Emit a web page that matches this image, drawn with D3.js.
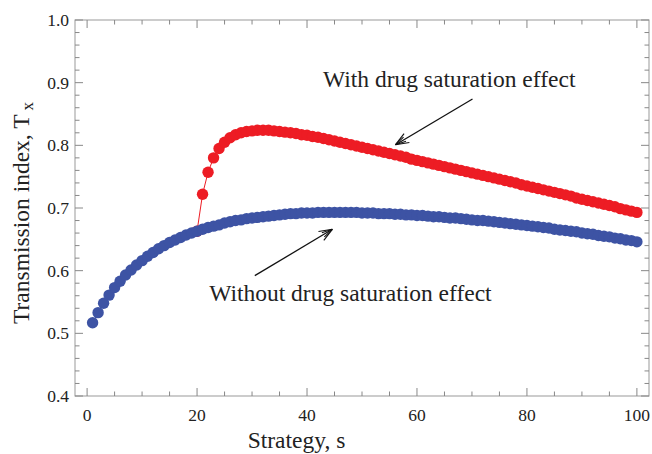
<!DOCTYPE html>
<html lang="en">
<head>
    <meta charset="UTF-8">
    <title>Transmission index</title>
    <script src="https://cdn.jsdelivr.net/npm/d3@7"></script>
    <style>
        body{ margin:0; background:#fff; }
        .tick-label, .axis-title, .note{
            font-family: "Liberation Serif", "Times New Roman", serif;
            fill:#222;
        }
        .tick-label{ font-size:17.5px; }
        .axis-title{ font-size:23.5px; }
        .note{ font-size:23.5px; }
    </style>
</head>
<body>
<svg width="652" height="454"></svg>
<script>
    // strategy s = 1..100
    const strategies = d3.range(1, 101);

    // without drug saturation effect, s = 1..100
    const withoutSat = [
        0.517, 0.533, 0.548, 0.561, 0.573, 0.583, 0.593, 0.601, 0.609, 0.616,
        0.623, 0.629, 0.635, 0.640, 0.645, 0.649, 0.653, 0.657, 0.660, 0.663,
        0.666, 0.669, 0.671, 0.673, 0.676, 0.678, 0.680, 0.681, 0.683, 0.684,
        0.685, 0.686, 0.687, 0.688, 0.689, 0.690, 0.691, 0.691, 0.692, 0.692,
        0.692, 0.693, 0.693, 0.693, 0.693, 0.693, 0.693, 0.693, 0.693, 0.692,
        0.692, 0.692, 0.691, 0.691, 0.691, 0.690, 0.690, 0.689, 0.689, 0.688,
        0.688, 0.687, 0.686, 0.686, 0.685, 0.684, 0.684, 0.683, 0.682, 0.681,
        0.680, 0.680, 0.679, 0.678, 0.677, 0.676, 0.675, 0.674, 0.673, 0.672,
        0.671, 0.670, 0.669, 0.668, 0.666, 0.665, 0.664, 0.663, 0.662, 0.660,
        0.659, 0.658, 0.656, 0.655, 0.654, 0.652, 0.651, 0.649, 0.648, 0.646
    ];

    // with drug saturation effect, s = 20..100 (below 20 it equals the other curve)
    const satStart = 20;
    const withSat = [
        0.663,
        0.722, 0.757, 0.780, 0.795, 0.805, 0.812, 0.817, 0.820, 0.822, 0.823,
        0.824, 0.824, 0.824, 0.823, 0.822, 0.821, 0.820, 0.819, 0.817, 0.816,
        0.814, 0.813, 0.811, 0.809, 0.807, 0.805, 0.803, 0.801, 0.799, 0.797,
        0.795, 0.793, 0.791, 0.789, 0.787, 0.785, 0.783, 0.781, 0.778, 0.776,
        0.774, 0.772, 0.770, 0.768, 0.766, 0.764, 0.762, 0.760, 0.758, 0.756,
        0.754, 0.752, 0.750, 0.748, 0.746, 0.744, 0.742, 0.740, 0.737, 0.735,
        0.733, 0.731, 0.729, 0.727, 0.725, 0.723, 0.721, 0.719, 0.716, 0.714,
        0.712, 0.710, 0.708, 0.706, 0.704, 0.702, 0.699, 0.697, 0.695, 0.693
    ];

    const xTicks = [0, 20, 40, 60, 80, 100];
    const yTicks = [0.4, 0.5, 0.6, 0.7, 0.8, 0.9, 1.0];

    // annotations: label position and arrow tail/head, in data units
    const notes = [
        {label: "With drug saturation effect", tx: 42.9, ty: 0.893, from: [70.1, 0.874], to: [56.1, 0.801]},
        {label: "Without drug saturation effect", tx: 22.2, ty: 0.551, from: [30.5, 0.592], to: [44.6, 0.666]}
    ];

    const svg = d3.select("svg");
    const padL = 75, padR = 649, padT = 20, padB = 396;

    const x = d3.scaleLinear().domain([-2.2, 102.2]).range([padL, padR]);
    const y = d3.scaleLinear().domain([0.4, 1.0]).range([padB, padT]);

    // frame
    svg.append("rect")
        .attr("x", padL).attr("y", padT)
        .attr("width", padR - padL).attr("height", padB - padT)
        .attr("fill", "none").attr("stroke", "#999").attr("stroke-width", 1);

    // ticks, pointing inside on all four sides
    const xMinor = d3.range(0, 101, 5);
    const yMinor = d3.range(0, 31).map(i => 0.4 + i * 0.02);
    const tickG = svg.append("g").attr("stroke", "#888").attr("stroke-width", 1);
    xMinor.forEach(v => {
        const len = v % 20 === 0 ? 8 : 4.5;
        tickG.append("line").attr("x1", x(v)).attr("x2", x(v)).attr("y1", padB).attr("y2", padB - len);
        tickG.append("line").attr("x1", x(v)).attr("x2", x(v)).attr("y1", padT).attr("y2", padT + len);
    });
    yMinor.forEach((v, i) => {
        const len = i % 5 === 0 ? 8 : 4.5;
        tickG.append("line").attr("y1", y(v)).attr("y2", y(v)).attr("x1", padL).attr("x2", padL + len);
        tickG.append("line").attr("y1", y(v)).attr("y2", y(v)).attr("x1", padR).attr("x2", padR - len);
    });

    // tick labels
    svg.append("g").selectAll("text").data(xTicks).join("text")
        .attr("class", "tick-label")
        .attr("x", d => x(d)).attr("y", 421)
        .attr("text-anchor", "middle")
        .text(d => d);
    svg.append("g").selectAll("text").data(yTicks).join("text")
        .attr("class", "tick-label")
        .attr("x", 69).attr("y", d => y(d) + 6)
        .attr("text-anchor", "end")
        .text(d => d.toFixed(1));

    // axis titles
    svg.append("text").attr("class", "axis-title")
        .attr("x", 296.5).attr("y", 448)
        .attr("text-anchor", "middle")
        .text("Strategy, s");
    const yt = svg.append("text").attr("class", "axis-title")
        .attr("transform", "translate(29,213) rotate(-90)")
        .attr("text-anchor", "middle");
    yt.append("tspan").text("Transmission index, T");
    yt.append("tspan").attr("dy", 4).attr("dx", 4).attr("font-size", 17).text("x");

    const satPts = withSat.map((v, i) => [satStart + i, v]);
    const basePts = strategies.map((s, i) => [s, withoutSat[i]]);
    const line = d3.line().x(d => x(d[0])).y(d => y(d[1]));

    const red = "#ed1c24", blue = "#3d53a4";

    // red first, blue drawn on top of it
    svg.append("path").attr("d", line(satPts))
        .attr("fill", "none").attr("stroke", red).attr("stroke-width", 1);
    svg.append("g").selectAll("circle").data(satPts).join("circle")
        .attr("cx", d => x(d[0])).attr("cy", d => y(d[1])).attr("r", 5.7)
        .attr("fill", red);

    svg.append("path").attr("d", line(basePts))
        .attr("fill", "none").attr("stroke", blue).attr("stroke-width", 1);
    svg.append("g").selectAll("circle").data(basePts).join("circle")
        .attr("cx", d => x(d[0])).attr("cy", d => y(d[1])).attr("r", 5.7)
        .attr("fill", blue);

    // annotations with open double-barbed arrowheads
    notes.forEach(n => {
        svg.append("text").attr("class", "note")
            .attr("x", x(n.tx)).attr("y", y(n.ty))
            .text(n.label);
        const x1 = x(n.from[0]), y1 = y(n.from[1]);
        const x2 = x(n.to[0]), y2 = y(n.to[1]);
        svg.append("line").attr("x1", x1).attr("y1", y1).attr("x2", x2).attr("y2", y2)
            .attr("stroke", "#111").attr("stroke-width", 1.3);
        const ang = Math.atan2(y2 - y1, x2 - x1);
        [[14, 0.38], [14, -0.38], [11, 0.22], [11, -0.22]].forEach(([len, da]) => {
            svg.append("line")
                .attr("x1", x2).attr("y1", y2)
                .attr("x2", x2 - len * Math.cos(ang + da))
                .attr("y2", y2 - len * Math.sin(ang + da))
                .attr("stroke", "#111").attr("stroke-width", 1.1);
        });
    });
</script>
</body>
</html>
